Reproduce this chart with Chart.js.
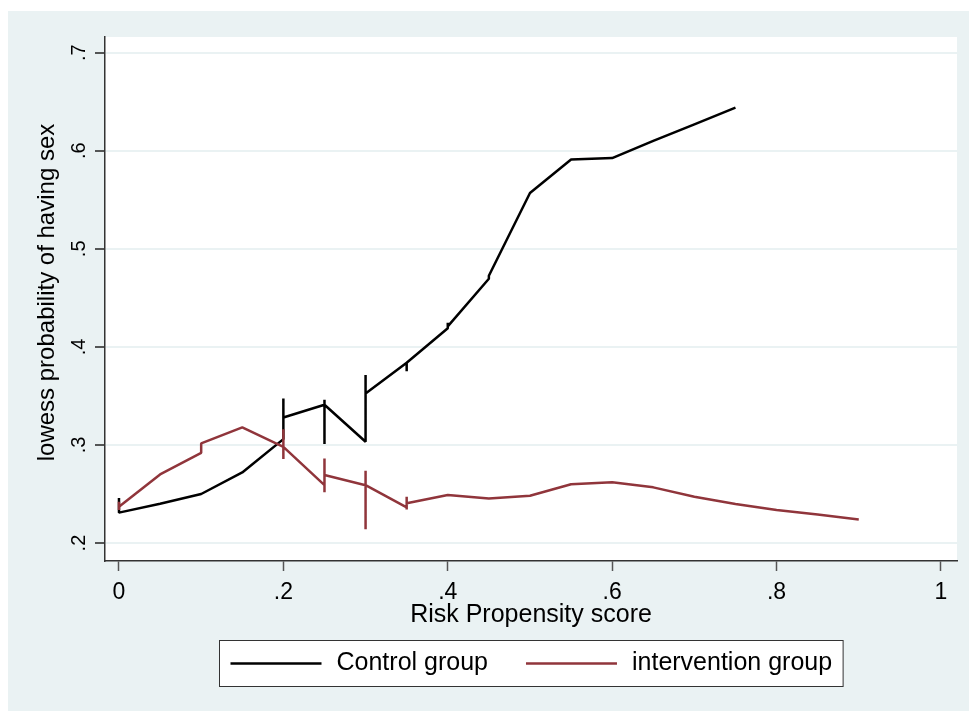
<!DOCTYPE html>
<html>
<head>
<meta charset="utf-8">
<script src="https://cdn.jsdelivr.net/npm/chart.js@4.4.0/dist/chart.umd.min.js"></script>
<style>
  html, body { margin: 0; padding: 0; background: #ffffff; }
  canvas { display: block; }
</style>
</head>
<body>
<canvas id="lowessChart" width="969" height="711"></canvas>
<script>
// values (ties at the same x give the vertical spikes)
const controlX = [0, 0, 0.05, 0.1, 0.15, 0.2, 0.2, 0.2, 0.25, 0.25, 0.25, 0.25,
  0.3, 0.3, 0.3, 0.35, 0.35, 0.35, 0.4, 0.4, 0.4, 0.45, 0.45, 0.5, 0.55, 0.6, 0.65, 0.7, 0.75];
const controlY = [0.246, 0.231, 0.240, 0.250, 0.272, 0.306, 0.3475, 0.328, 0.341, 0.346, 0.301, 0.341,
  0.3033, 0.3713, 0.3526, 0.3838, 0.3753, 0.3838, 0.419, 0.4246, 0.421, 0.4695, 0.4725, 0.557, 0.591, 0.5925, 0.610, 0.627, 0.644];

const interventionX = [0, 0, 0, 0.05, 0.1, 0.1, 0.15, 0.2, 0.2, 0.2, 0.2, 0.25, 0.25, 0.25, 0.25,
  0.3, 0.3, 0.3, 0.3, 0.35, 0.35, 0.35, 0.35, 0.4, 0.45, 0.5, 0.55, 0.6, 0.65, 0.7, 0.75, 0.8, 0.85, 0.9];
const interventionY = [0.242, 0.2336, 0.237, 0.270, 0.292, 0.3016, 0.318, 0.298, 0.316, 0.2856, 0.298, 0.259, 0.2517, 0.2863, 0.2693,
  0.259, 0.2737, 0.214, 0.259, 0.2364, 0.2343, 0.2472, 0.2405, 0.249, 0.2455, 0.2482, 0.260, 0.2619, 0.2568, 0.2472, 0.2398, 0.2336, 0.229, 0.2241];

const xTicks = [0, 0.2, 0.4, 0.6, 0.8, 1];
const yTicks = [0.2, 0.3, 0.4, 0.5, 0.6, 0.7];
const seriesNames = ["Control group", "intervention group"];
const seriesColors = ["#000000", "#90353b"];
const yTitle = "lowess probability of having sex";

const FONT = "'Liberation Sans', Arial, sans-serif";

function toPoints(xs, ys) {
  return xs.map((x, i) => ({ x: x, y: ys[i] }));
}

function stataLabel(v) {
  // Stata style: .2 instead of 0.2
  if (v === 0) return "0";
  if (v === 1) return "1";
  return String(Math.round(v * 10) / 10).replace(/^0/, "");
}

const backgroundPlugin = {
  id: "stataBackground",
  beforeDraw(chart) {
    const ctx = chart.ctx;
    const area = chart.chartArea;
    ctx.save();
    ctx.fillStyle = "#ffffff";
    ctx.fillRect(0, 0, chart.width, chart.height);
    ctx.fillStyle = "#eaf2f3";
    ctx.fillRect(8, 11, chart.width - 8, chart.height - 11);
    ctx.fillStyle = "#ffffff";
    ctx.fillRect(area.left, area.top, area.right - area.left, area.bottom - area.top);
    ctx.restore();
  }
};

// y tick labels and title are turned on their side; drawn here so they sit where Stata puts them
const yLabelPlugin = {
  id: "yLabels",
  afterDraw(chart) {
    const ctx = chart.ctx;
    const yScale = chart.scales.y;
    ctx.save();
    ctx.fillStyle = "#000000";
    ctx.font = "20px " + FONT;
    ctx.textAlign = "center";
    ctx.textBaseline = "alphabetic";
    yTicks.forEach((v) => {
      const py = yScale.getPixelForValue(v);
      ctx.save();
      ctx.translate(85, py);
      ctx.rotate(-Math.PI / 2);
      ctx.fillText(stataLabel(v), 0, 0);
      ctx.restore();
    });

    ctx.font = "24px " + FONT;
    ctx.textBaseline = "middle";
    ctx.translate(47, 292.5);
    ctx.rotate(-Math.PI / 2);
    ctx.fillText(yTitle, 0, 0);
    ctx.restore();
  }
};

// boxed legend under the axis title
const legendPlugin = {
  id: "boxLegend",
  afterDraw(chart) {
    const ctx = chart.ctx;
    const area = chart.chartArea;
    ctx.save();
    ctx.font = "25px " + FONT;
    const sample = 91;
    const gapText = 15;
    const gapItem = 38;
    const padL = 11;
    const padR = 11;
    const widths = seriesNames.map((n) => ctx.measureText(n).width);
    const total = padL + sample + gapText + widths[0] + gapItem + sample + gapText + widths[1] + padR;
    const left = Math.round((area.left + area.right) / 2 - total / 2) + 0.5;
    const top = 640.5;
    const height = 46;
    const mid = top + height / 2;

    ctx.fillStyle = "#ffffff";
    ctx.fillRect(left, top, total, height);
    ctx.strokeStyle = "#333333";
    ctx.lineWidth = 1;
    ctx.strokeRect(left, top, total, height);

    let x = left + padL;
    seriesNames.forEach((name, i) => {
      ctx.strokeStyle = seriesColors[i];
      ctx.lineWidth = 2.5;
      ctx.beginPath();
      ctx.moveTo(x, mid);
      ctx.lineTo(x + sample, mid);
      ctx.stroke();
      x += sample + gapText;
      ctx.fillStyle = "#000000";
      ctx.textAlign = "left";
      ctx.textBaseline = "middle";
      ctx.fillText(name, x, mid);
      x += widths[i] + gapItem;
    });
    ctx.restore();
  }
};

const ctx = document.getElementById("lowessChart").getContext("2d");

new Chart(ctx, {
  type: "scatter",
  data: {
    datasets: [
      {
        label: seriesNames[0],
        data: toPoints(controlX, controlY),
        showLine: true,
        borderColor: seriesColors[0],
        backgroundColor: seriesColors[0],
        borderWidth: 2.5,
        pointRadius: 0,
        tension: 0,
        borderJoinStyle: "bevel",
        order: 1,
      },
      {
        label: seriesNames[1],
        data: toPoints(interventionX, interventionY),
        showLine: true,
        borderColor: seriesColors[1],
        backgroundColor: seriesColors[1],
        borderWidth: 2.5,
        pointRadius: 0,
        tension: 0,
        borderJoinStyle: "bevel",
        order: 0,
      },
    ],
  },
  options: {
    responsive: false,
    animation: false,
    devicePixelRatio: 1,
    layout: {
      padding: { left: 8, right: 12, top: 37, bottom: 0 },
    },
    plugins: {
      legend: { display: false },
      tooltip: { enabled: false },
    },
    scales: {
      x: {
        type: "linear",
        min: -0.017,
        max: 1.0195,
        afterBuildTicks: (scale) => {
          scale.ticks = xTicks.map((v) => ({ value: v }));
        },
        afterFit: (scale) => {
          scale.height = 150;
        },
        grid: {
          drawOnChartArea: false,
          drawTicks: true,
          tickLength: 10,
          color: "#555555",
          tickWidth: 1.5,
        },
        border: { display: true, color: "#333333", width: 1.5 },
        ticks: {
          padding: 8,
          color: "#000000",
          font: { family: FONT, size: 23 },
          maxRotation: 0,
          callback: (v) => stataLabel(v),
        },
        title: {
          display: true,
          text: "Risk Propensity score",
          color: "#000000",
          font: { family: FONT, size: 25 },
          padding: { top: 0, bottom: 81 },
        },
      },
      y: {
        type: "linear",
        min: 0.1817,
        max: 0.716,
        afterBuildTicks: (scale) => {
          scale.ticks = yTicks.map((v) => ({ value: v }));
        },
        afterFit: (scale) => {
          scale.width = 97;
        },
        grid: {
          drawOnChartArea: true,
          drawTicks: true,
          tickLength: 10,
          color: "#eaf2f3",
          lineWidth: 2,
          tickColor: "#222222",
          tickWidth: 1.5,
        },
        border: { display: true, color: "#333333", width: 1.5 },
        ticks: { display: false },
        title: { display: false },
      },
    },
  },
  plugins: [backgroundPlugin, yLabelPlugin, legendPlugin],
});
</script>
</body>
</html>
